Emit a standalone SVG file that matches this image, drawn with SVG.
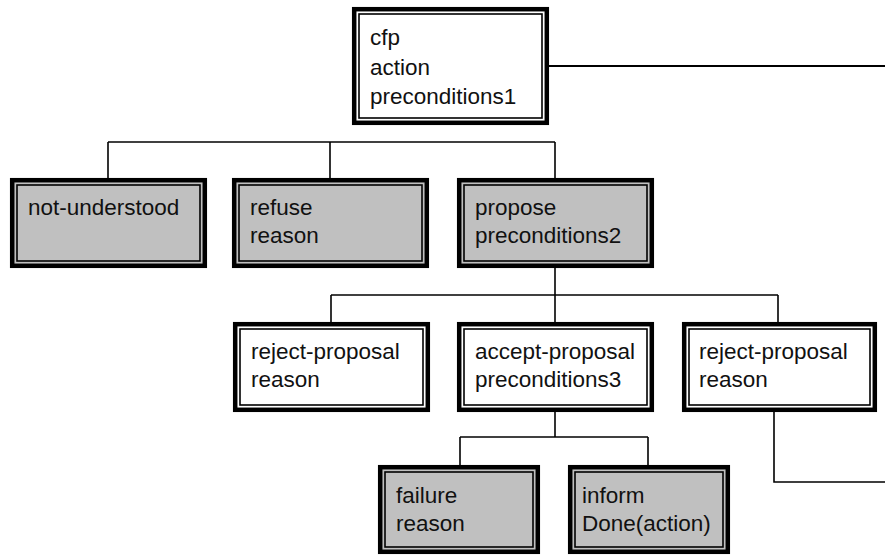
<svg xmlns="http://www.w3.org/2000/svg" width="885" height="555" viewBox="0 0 885 555">
<style>
.o{stroke:#000;stroke-width:4.5}
.i{fill:none;stroke:#000;stroke-width:1.6}
.w{fill:#fff}
.g{fill:#c0c0c0}
.t{font-family:"Liberation Sans",Arial,sans-serif;font-size:22.5px;fill:#111}
.c{stroke:#000;stroke-width:1.6;fill:none}
</style>
<rect width="885" height="555" fill="#fff"/>
<g id="connectors" class="c">
<line x1="549" y1="66" x2="885" y2="66" stroke-width="2"/>
<line x1="108" y1="142" x2="555" y2="142"/>
<line x1="108" y1="142" x2="108" y2="178"/>
<line x1="330" y1="142" x2="330" y2="178"/>
<line x1="555" y1="142" x2="555" y2="178"/>
<line x1="555" y1="268" x2="555" y2="295"/>
<line x1="331" y1="295" x2="778" y2="295"/>
<line x1="331" y1="295" x2="331" y2="322"/>
<line x1="555" y1="295" x2="555" y2="322"/>
<line x1="778" y1="295" x2="778" y2="322"/>
<line x1="555" y1="412" x2="555" y2="437"/>
<line x1="460" y1="437" x2="648" y2="437"/>
<line x1="460" y1="437" x2="460" y2="465"/>
<line x1="648" y1="437" x2="648" y2="465"/>
<polyline points="774,412 774,482 885,482"/>
</g>
<g id="cfp"><rect class="o w" x="354.2" y="9.2" width="192.6" height="113.6"/><rect class="i" x="359" y="14" width="183" height="104"/><text class="t" x="370" y="45">cfp</text><text class="t" x="370" y="74.5">action</text><text class="t" x="370" y="104">preconditions1</text></g>
<g id="not-understood"><rect class="o g" x="12.2" y="180.2" width="192.6" height="85.6"/><rect class="i" x="17" y="185" width="183" height="76"/><text class="t" x="28" y="215">not-understood</text></g>
<g id="refuse"><rect class="o g" x="234.2" y="180.2" width="192.6" height="85.6"/><rect class="i" x="239" y="185" width="183" height="76"/><text class="t" x="250" y="215">refuse</text><text class="t" x="250" y="243">reason</text></g>
<g id="propose"><rect class="o g" x="459.2" y="180.2" width="192.6" height="85.6"/><rect class="i" x="464" y="185" width="183" height="76"/><text class="t" x="475" y="215">propose</text><text class="t" x="475" y="243">preconditions2</text></g>
<g id="reject-proposal-1"><rect class="o w" x="235.2" y="324.2" width="192.6" height="85.6"/><rect class="i" x="240" y="329" width="183" height="76"/><text class="t" x="251" y="359">reject-proposal</text><text class="t" x="251" y="387">reason</text></g>
<g id="accept-proposal"><rect class="o w" x="459.2" y="324.2" width="192.6" height="85.6"/><rect class="i" x="464" y="329" width="183" height="76"/><text class="t" x="475" y="359">accept-proposal</text><text class="t" x="475" y="387">preconditions3</text></g>
<g id="reject-proposal-2"><rect class="o w" x="684.2" y="324.2" width="190.6" height="85.6"/><rect class="i" x="689" y="329" width="181" height="76"/><text class="t" x="699" y="359">reject-proposal</text><text class="t" x="699" y="387">reason</text></g>
<g id="failure"><rect class="o g" x="380.2" y="467.2" width="157.6" height="84.6"/><rect class="i" x="385" y="472" width="148" height="75"/><text class="t" x="396" y="503">failure</text><text class="t" x="396" y="531">reason</text></g>
<g id="inform"><rect class="o g" x="570.2" y="467.2" width="157.6" height="84.6"/><rect class="i" x="575" y="472" width="148" height="75"/><text class="t" x="582" y="503">inform</text><text class="t" x="582" y="531">Done(action)</text></g>
</svg>
